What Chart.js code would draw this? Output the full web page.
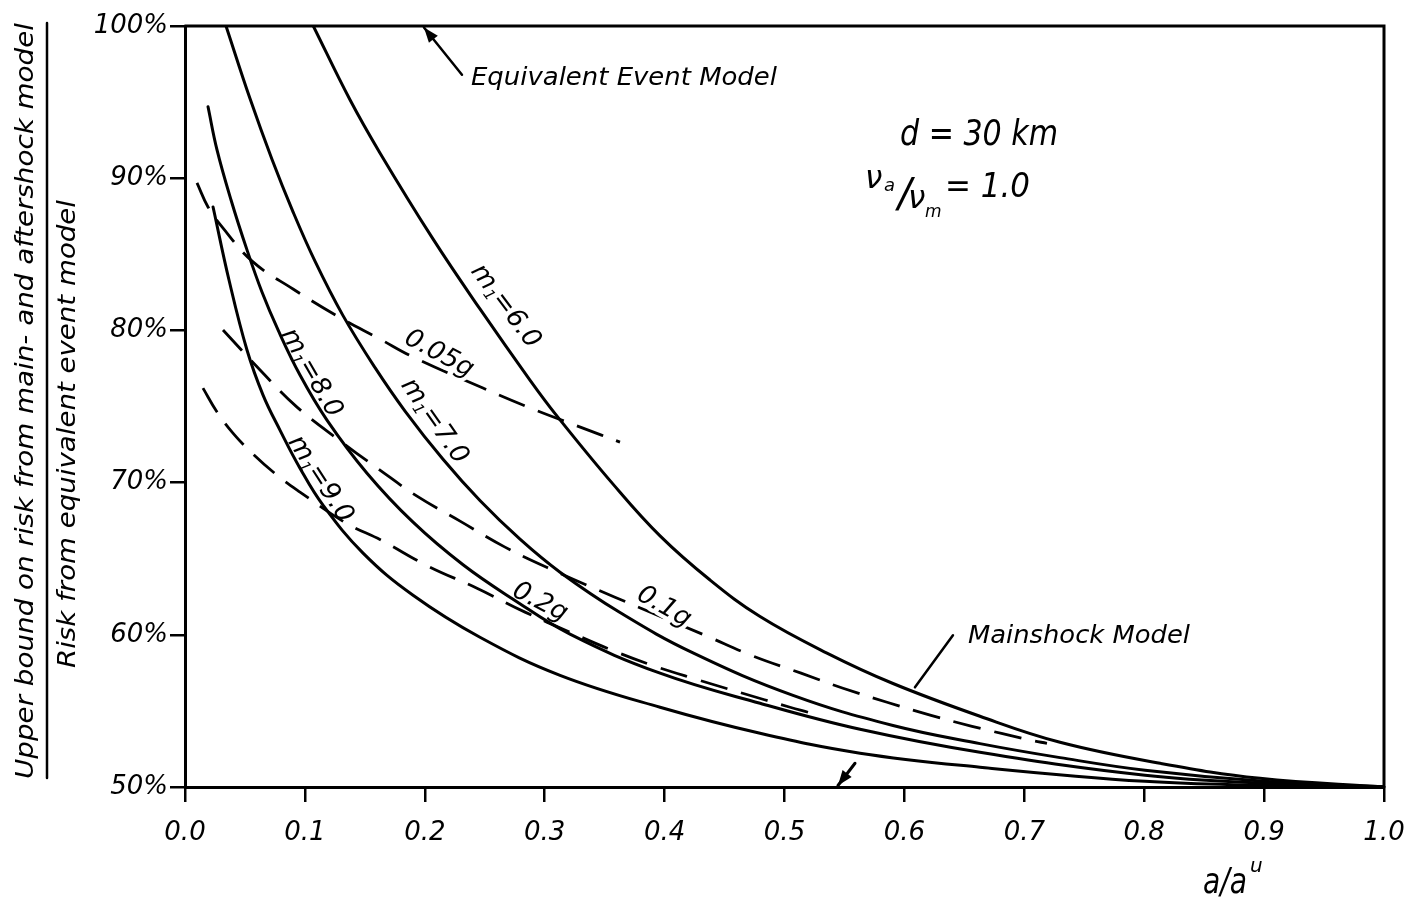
<!DOCTYPE html>
<html>
<head>
<meta charset="utf-8">
<title>Upper bound on risk ratio</title>
<script src="https://cdn.jsdelivr.net/npm/chart.js@4.4.1/dist/chart.umd.min.js"></script>
<style>
  html, body { margin: 0; padding: 0; background: #fff; }
  #wrap { width: 1410px; height: 903px; position: relative; }
</style>
</head>
<body>
<div id="wrap"><canvas id="riskChart"></canvas></div>
<script>
// tick labels
const xTickLabels = ["0.0", "0.1", "0.2", "0.3", "0.4", "0.5", "0.6", "0.7", "0.8", "0.9", "1.0"];
const yTickLabels = ["50%", "60%", "70%", "80%", "90%", "100%"];

// solid curves, one per magnitude m1 (x = a/a^u, y = ratio in %)
const m6X = [0.107, 0.1376, 0.1626, 0.2068, 0.246, 0.2877, 0.3103, 0.357, 0.3962, 0.4379, 0.4796, 0.5354, 0.5905, 0.663, 0.7298, 0.8132, 0.8966, 1.0];
const m6Y = [100, 95.15, 91.66, 86.01, 81.41, 76.74, 74.37, 69.9, 66.5, 63.6, 61.2, 58.8, 56.8, 54.65, 52.94, 51.56, 50.57, 50];

const m7X = [0.0342, 0.0542, 0.0726, 0.0901, 0.1084, 0.1318, 0.1585, 0.1835, 0.2152, 0.246, 0.2794, 0.3128, 0.3628, 0.4237, 0.5071, 0.5905, 0.663, 0.7298, 0.8007, 0.9, 1.0];
const m7Y = [100, 95.23, 91.23, 87.79, 84.55, 80.97, 77.55, 74.7, 71.53, 68.82, 66.28, 64.11, 61.46, 58.81, 56.02, 54.04, 52.85, 51.93, 51.1, 50.37, 50];

const m8X = [0.0192, 0.0267, 0.0384, 0.0517, 0.0642, 0.0776, 0.0959, 0.1184, 0.1518, 0.1902, 0.2319, 0.2736, 0.3211, 0.3962, 0.4796, 0.563, 0.663, 0.8007, 0.9, 1.0];
const m8Y = [94.69, 91.86, 88.57, 85.29, 82.52, 80.03, 77.07, 74.11, 70.62, 67.4, 64.6, 62.34, 60.04, 57.48, 55.5, 53.79, 52.28, 50.77, 50.24, 50];

const m9X = [0.0234, 0.0367, 0.0517, 0.0651, 0.0792, 0.0959, 0.1151, 0.1485, 0.1902, 0.246, 0.3128, 0.3962, 0.4796, 0.563, 0.663, 0.8007, 0.9, 1.0];
const m9Y = [88.11, 83.31, 78.71, 75.75, 73.45, 70.95, 68.52, 65.37, 62.6, 59.84, 57.34, 55.24, 53.53, 52.22, 51.3, 50.37, 50.11, 50];

// dashed curves, constant acceleration
const g005X = [0.01, 0.0192, 0.0309, 0.0567, 0.0901, 0.1268, 0.1626, 0.1902, 0.2485, 0.2902, 0.3319, 0.3628];
const g005Y = [89.69, 88.11, 86.8, 84.5, 82.72, 80.95, 79.43, 78.25, 76.21, 74.83, 73.58, 72.66];

const g01X = [0.0317, 0.0626, 0.0934, 0.1318, 0.1626, 0.1935, 0.2294, 0.2669, 0.3069, 0.3586, 0.4354, 0.472, 0.5138, 0.5488, 0.5855, 0.6222, 0.6564, 0.7056, 0.7189];
const g01Y = [80.03, 77.4, 74.96, 72.6, 70.82, 69.11, 67.47, 65.76, 64.25, 62.47, 59.91, 58.66, 57.48, 56.49, 55.57, 54.71, 53.99, 53.07, 52.87];

const g02X = [0.015, 0.0267, 0.04, 0.0559, 0.0767, 0.0959, 0.1343, 0.1635, 0.2027, 0.2435, 0.2836, 0.3211, 0.3561, 0.3895, 0.4262, 0.462, 0.5046, 0.5196];
const g02Y = [76.21, 74.64, 73.25, 71.94, 70.49, 69.38, 67.34, 66.22, 64.51, 63.06, 61.49, 60.17, 58.99, 58.0, 57.08, 56.23, 55.24, 54.91];

const FONT = '"DejaVu Sans", sans-serif';
const INK = "#000";

const toPoints = (xs, ys) => xs.map((x, i) => ({ x: x, y: ys[i] }));

const solidLine = (label, xs, ys) => ({
  label: label,
  data: toPoints(xs, ys),
  showLine: true,
  borderColor: INK,
  borderWidth: 3,
  pointRadius: 0,
  fill: false,
  tension: 0.4,
  borderCapStyle: "round",
  borderJoinStyle: "round",
});

const dashedLine = (label, xs, ys) => ({
  ...solidLine(label, xs, ys),
  borderWidth: 2.8,
  borderDash: [28, 14],
  borderCapStyle: "butt",
});

const setFont = (ctx, size) => {
  ctx.font = `italic ${size}px ${FONT}`;
};

// draw text stretched to a given width
const fitText = (ctx, text, x, y, size, width) => {
  setFont(ctx, size);
  const w = ctx.measureText(text).width;
  ctx.save();
  ctx.translate(x, y);
  ctx.scale(width / w, 1);
  ctx.fillText(text, 0, 0);
  ctx.restore();
};

// rotated label made of parts [text, size, dy]
const richLabel = (ctx, parts, cx, cy, angle, halo) => {
  ctx.save();
  ctx.translate(cx, cy);
  ctx.rotate((angle * Math.PI) / 180);
  let total = 0;
  parts.forEach((p) => {
    setFont(ctx, p[1]);
    total += ctx.measureText(p[0]).width;
  });
  const passes = halo ? ["halo", "ink"] : ["ink"];
  passes.forEach((pass) => {
    let x = -total / 2;
    parts.forEach((p) => {
      setFont(ctx, p[1]);
      const y = 9 + (p[2] || 0);
      if (pass === "halo") {
        ctx.lineWidth = 8;
        ctx.strokeStyle = "#fff";
        ctx.lineJoin = "round";
        ctx.strokeText(p[0], x, y);
      } else {
        ctx.fillText(p[0], x, y);
      }
      x += ctx.measureText(p[0]).width;
    });
  });
  ctx.restore();
};

const arrow = (ctx, x1, y1, x2, y2, head) => {
  ctx.beginPath();
  ctx.moveTo(x1, y1);
  ctx.lineTo(x2, y2);
  ctx.stroke();
  if (head) {
    const a = Math.atan2(y2 - y1, x2 - x1);
    const bx = x2 - head * Math.cos(a);
    const by = y2 - head * Math.sin(a);
    const w = head * 0.38;
    ctx.beginPath();
    ctx.moveTo(x2, y2);
    ctx.lineTo(bx + w * Math.sin(a), by - w * Math.cos(a));
    ctx.lineTo(bx - w * Math.sin(a), by + w * Math.cos(a));
    ctx.closePath();
    ctx.fill();
  }
};

const curveLabels = [
  { parts: [["m", 26], ["1", 15, 4], ["=6.0", 26]], x: 0.2686, y: 81.67, angle: 53, halo: false },
  { parts: [["m", 26], ["1", 15, 4], ["=7.0", 26]], x: 0.2093, y: 74.11, angle: 55, halo: false },
  { parts: [["m", 26], ["1", 15, 4], ["=8.0", 26]], x: 0.1068, y: 77.27, angle: 60, halo: false },
  { parts: [["m", 26], ["1", 15, 4], ["=9.0", 26]], x: 0.1143, y: 70.3, angle: 57, halo: false },
  { parts: [["0.05g", 26]], x: 0.2127, y: 78.58, angle: 28, halo: true },
  { parts: [["0.1g", 26]], x: 0.4003, y: 61.95, angle: 30, halo: true },
  { parts: [["0.2g", 26]], x: 0.2969, y: 62.27, angle: 27, halo: false },
];

const paperPlugin = {
  id: "paper",
  beforeDraw(chart) {
    const ctx = chart.ctx;
    ctx.save();
    ctx.fillStyle = "#fff";
    ctx.fillRect(0, 0, chart.width, chart.height);
    ctx.restore();
  },
  afterDatasetsDraw(chart) {
    const ctx = chart.ctx;
    const area = chart.chartArea;
    const xs = chart.scales.x;
    const ys = chart.scales.y;
    const px = (v) => xs.getPixelForValue(v);
    const py = (v) => ys.getPixelForValue(v);

    ctx.save();
    ctx.strokeStyle = INK;
    ctx.fillStyle = INK;
    ctx.lineCap = "round";

    // top and right frame
    ctx.lineWidth = 3;
    ctx.beginPath();
    ctx.moveTo(area.left, area.top);
    ctx.lineTo(area.right, area.top);
    ctx.lineTo(area.right, area.bottom);
    ctx.stroke();

    // curve labels
    ctx.textBaseline = "alphabetic";
    curveLabels.forEach((l) => richLabel(ctx, l.parts, px(l.x), py(l.y), l.angle, l.halo));

    // Equivalent Event Model
    ctx.lineWidth = 2.5;
    arrow(ctx, px(0.231), py(96.8), px(0.1993), py(99.9), 15);
    fitText(ctx, "Equivalent Event Model", px(0.2385), 85, 25, 306);

    // Mainshock Model
    arrow(ctx, px(0.6405), py(59.97), px(0.6088), py(56.55), 0);
    fitText(ctx, "Mainshock Model", px(0.653), 643, 25, 222);
    ctx.lineWidth = 3;
    arrow(ctx, px(0.5588), py(51.56), px(0.5446), py(50.1), 15);

    // parameters
    fitText(ctx, "d = 30 km", 900, 145, 36, 158);
    setFont(ctx, 31);
    ctx.fillText("\u03bd", 865, 188);
    setFont(ctx, 18);
    ctx.fillText("a", 884, 191);
    setFont(ctx, 40);
    ctx.fillText("/", 898, 207);
    setFont(ctx, 31);
    ctx.fillText("\u03bd", 908, 208);
    setFont(ctx, 17);
    ctx.fillText("m", 925, 217);
    fitText(ctx, "= 1.0", 945, 197, 34, 85);

    // x axis title
    fitText(ctx, "a/a", 1203, 893, 36, 44);
    setFont(ctx, 20);
    ctx.fillText("u", 1250, 872);

    // y axis title as a fraction
    ctx.save();
    ctx.translate(33, 401);
    ctx.rotate(-Math.PI / 2);
    fitText(ctx, "Upper bound on risk from main- and aftershock model", -378, 0, 25, 756);
    ctx.restore();

    ctx.save();
    ctx.translate(75, 434);
    ctx.rotate(-Math.PI / 2);
    fitText(ctx, "Risk from equivalent event model", -234, 0, 25, 468);
    ctx.restore();

    ctx.lineWidth = 2.5;
    ctx.beginPath();
    ctx.moveTo(47, 23);
    ctx.lineTo(47, 778);
    ctx.stroke();

    ctx.restore();
  },
};

const tickFont = { family: FONT, size: 26, style: "italic" };

new Chart(document.getElementById("riskChart"), {
  type: "scatter",
  data: {
    datasets: [
      solidLine("m1 = 6.0", m6X, m6Y),
      solidLine("m1 = 7.0", m7X, m7Y),
      solidLine("m1 = 8.0", m8X, m8Y),
      solidLine("m1 = 9.0", m9X, m9Y),
      dashedLine("0.05g", g005X, g005Y),
      dashedLine("0.1g", g01X, g01Y),
      dashedLine("0.2g", g02X, g02Y),
    ],
  },
  options: {
    responsive: true,
    maintainAspectRatio: false,
    animation: false,
    layout: { padding: { top: 26, right: 26, left: 0, bottom: 0 } },
    plugins: {
      legend: { display: false },
      tooltip: { enabled: false },
    },
    scales: {
      x: {
        type: "linear",
        min: 0,
        max: 1,
        afterFit: (scale) => {
          scale.height = 116;
          scale.paddingLeft = 0;
          scale.paddingRight = 0;
        },
        ticks: {
          stepSize: 0.1,
          autoSkip: false,
          maxRotation: 0,
          padding: 16,
          color: INK,
          font: tickFont,
          callback: (v) => xTickLabels[Math.round(v * 10)],
        },
        grid: { drawOnChartArea: false, tickLength: 15, color: INK, lineWidth: 2.5 },
        border: { color: INK, width: 3 },
      },
      y: {
        min: 50,
        max: 100,
        afterFit: (scale) => {
          scale.width = 185;
        },
        ticks: {
          stepSize: 10,
          padding: 2,
          color: INK,
          font: tickFont,
          callback: (v) => yTickLabels[Math.round((v - 50) / 10)],
        },
        grid: { drawOnChartArea: false, tickLength: 15, color: INK, lineWidth: 2.5 },
        border: { color: INK, width: 3 },
      },
    },
  },
  plugins: [paperPlugin],
});
</script>
</body>
</html>
